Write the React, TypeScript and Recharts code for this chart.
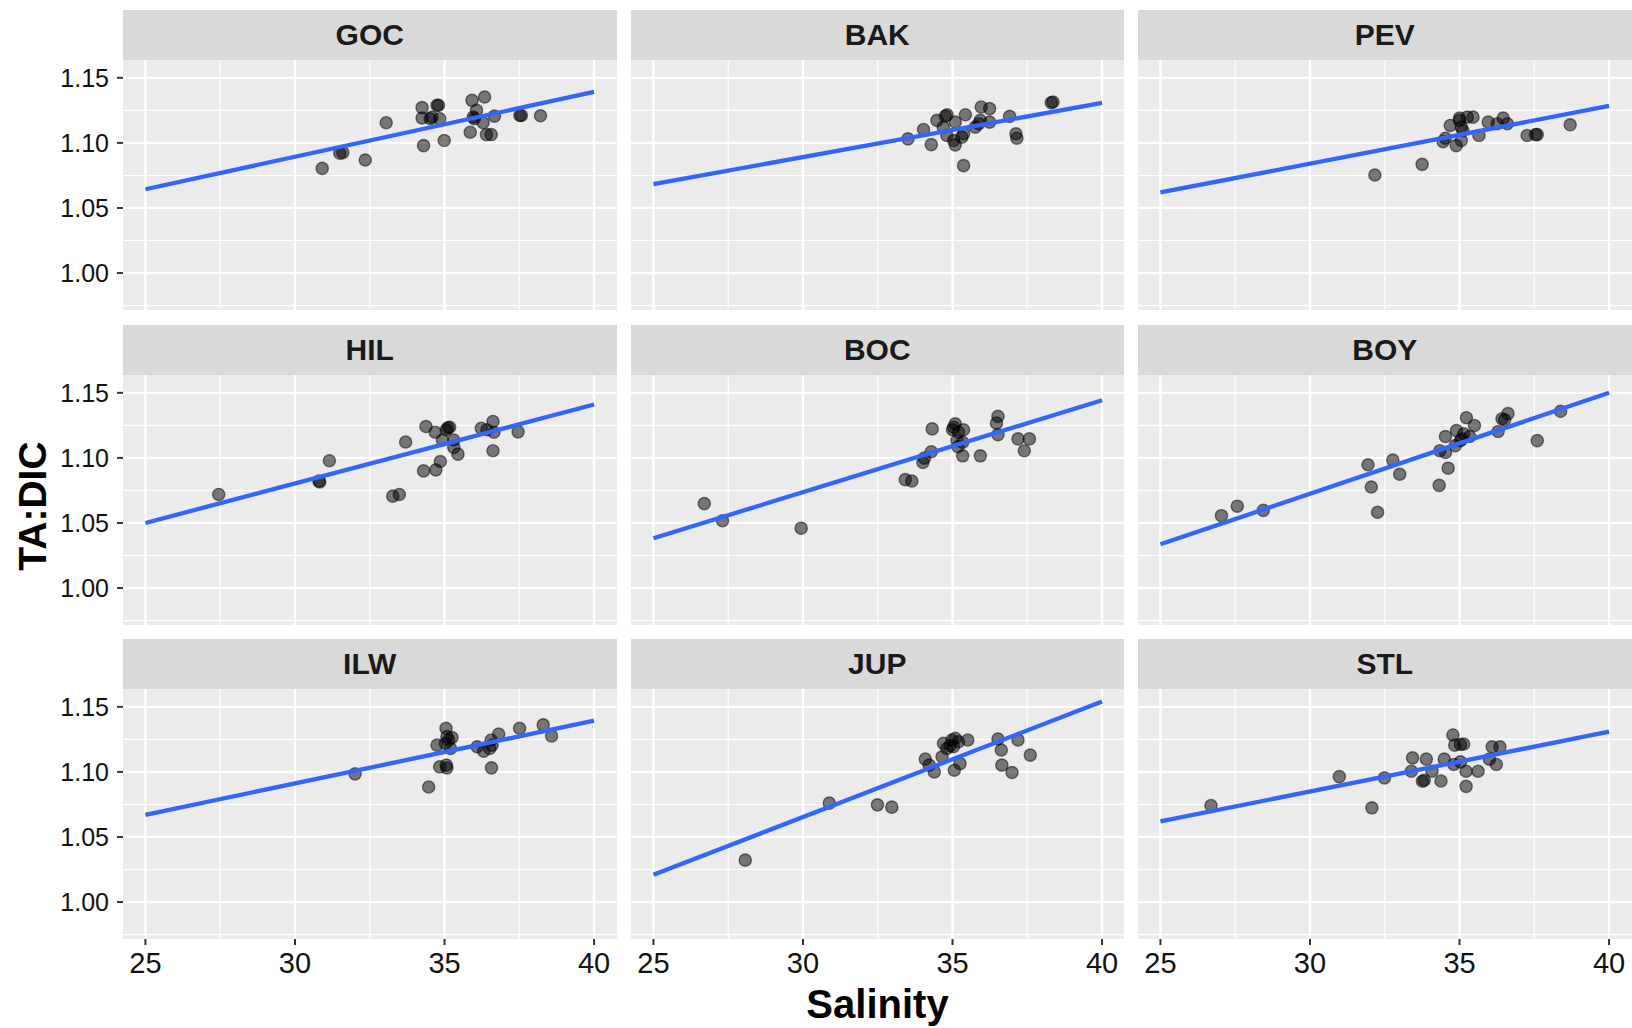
import React from "react";
import { ScatterChart, Scatter, XAxis, YAxis, CartesianGrid } from "recharts";

// Salinity vs TA:DIC observations per station: [salinity, TA:DIC]
const GOC: [number, number][] = [
  [30.91, 1.0804], [31.5, 1.092], [31.6, 1.0925], [32.35, 1.0869], [33.05, 1.1155],
  [34.25, 1.1271], [34.25, 1.1191], [34.3, 1.0979], [34.75, 1.1289], [34.8, 1.1289],
  [34.58, 1.1198], [34.84, 1.1186], [34.52, 1.1186], [34.99, 1.1018], [35.92, 1.1327],
  [36.34, 1.1353], [36.07, 1.125], [35.96, 1.1198], [36.0, 1.1186], [36.29, 1.1155],
  [35.86, 1.1082], [36.4, 1.1064], [36.56, 1.1064], [36.67, 1.1206], [37.52, 1.1211],
  [37.57, 1.1211], [38.21, 1.1209],
];
const BAK: [number, number][] = [
  [33.51, 1.1031], [34.03, 1.1103], [34.29, 1.0987], [34.48, 1.1173], [34.76, 1.1206],
  [34.82, 1.1216], [35.09, 1.116], [34.69, 1.1121], [34.81, 1.1057], [35.04, 1.1018],
  [35.09, 1.0985], [35.37, 1.107], [35.31, 1.1044], [35.43, 1.1216], [35.37, 1.0825],
  [35.76, 1.1121], [35.88, 1.1147], [35.96, 1.1276], [36.24, 1.1263], [35.93, 1.1173],
  [36.24, 1.116], [36.91, 1.1204], [37.12, 1.107], [37.15, 1.1036], [38.3, 1.1309],
  [38.36, 1.1314],
];
const PEV: [number, number][] = [
  [32.17, 1.0753], [33.75, 1.0835], [34.45, 1.101], [34.53, 1.1036], [34.69, 1.1134],
  [34.89, 1.0979], [35.0, 1.1173], [35.06, 1.1121], [35.11, 1.1095], [35.0, 1.119],
  [35.06, 1.1018], [35.26, 1.1198], [35.45, 1.1198], [35.65, 1.1057], [35.96, 1.116],
  [36.26, 1.1147], [36.46, 1.119], [36.6, 1.1147], [37.26, 1.1057], [37.54, 1.1064],
  [37.6, 1.1064], [38.7, 1.1139],
];
const HIL: [number, number][] = [
  [27.45, 1.0719], [30.8, 1.0822], [30.83, 1.0815], [31.15, 1.0978], [33.27, 1.0706],
  [33.49, 1.0719], [33.7, 1.1122], [34.3, 1.09], [34.38, 1.1241], [34.69, 1.1197],
  [34.71, 1.0908], [34.86, 1.0972], [35.11, 1.1231], [35.06, 1.1216], [35.17, 1.1236],
  [34.93, 1.1138], [35.31, 1.1138], [35.31, 1.1081], [35.45, 1.1029], [36.23, 1.1228],
  [36.42, 1.1216], [36.62, 1.128], [36.65, 1.1197], [36.62, 1.1055], [37.46, 1.12],
];
const BOC: [number, number][] = [
  [26.7, 1.0649], [27.31, 1.0517], [29.94, 1.046], [33.42, 1.0833], [33.64, 1.0822],
  [34.01, 1.0965], [34.06, 1.0998], [34.29, 1.1047], [34.32, 1.1223], [35.0, 1.1216],
  [35.09, 1.1262], [35.04, 1.1236], [35.37, 1.1216], [35.2, 1.1197], [35.15, 1.1133],
  [35.18, 1.1086], [35.34, 1.112], [35.34, 1.1016], [35.93, 1.1016], [36.52, 1.1319],
  [36.47, 1.1267], [36.52, 1.1179], [37.19, 1.1146], [37.57, 1.1146], [37.4, 1.1055],
];
const BOY: [number, number][] = [
  [27.04, 1.0556], [27.57, 1.0629], [28.44, 1.0597], [31.94, 1.0947], [32.05, 1.0776],
  [32.26, 1.0582], [32.77, 1.0983], [33.0, 1.0874], [34.32, 1.0789], [34.34, 1.1055],
  [34.53, 1.1042], [34.53, 1.1164], [34.62, 1.0921], [34.86, 1.1094], [34.9, 1.121],
  [35.08, 1.1146], [35.14, 1.1185], [35.03, 1.1133], [35.23, 1.1309], [35.34, 1.1164],
  [35.5, 1.1249], [36.29, 1.1203], [36.42, 1.1301], [36.51, 1.1293], [36.62, 1.134],
  [37.6, 1.1133], [38.38, 1.1358],
];
const ILW: [number, number][] = [
  [32.01, 1.0985], [34.47, 1.0884], [34.75, 1.1206], [34.84, 1.1039], [35.08, 1.1031],
  [35.06, 1.1052], [35.05, 1.1335], [35.08, 1.1271], [35.14, 1.1245], [35.25, 1.1263],
  [35.03, 1.1219], [35.2, 1.118], [36.09, 1.1193], [36.31, 1.116], [36.56, 1.1245],
  [36.59, 1.1206], [36.51, 1.118], [36.81, 1.1291], [36.57, 1.1031], [37.51, 1.1335],
  [38.3, 1.1361], [38.58, 1.1276],
];
const JUP: [number, number][] = [
  [28.07, 1.0322], [30.88, 1.076], [32.49, 1.0747], [32.97, 1.0729], [34.09, 1.1098],
  [34.22, 1.1052], [34.39, 1.1], [34.65, 1.1116], [34.7, 1.1219], [34.81, 1.118],
  [34.98, 1.1245], [35.09, 1.1258], [35.2, 1.1232], [34.92, 1.1201], [35.03, 1.1193],
  [35.51, 1.1245], [35.25, 1.1064], [35.06, 1.1013], [36.52, 1.1253], [36.63, 1.1168],
  [36.65, 1.1052], [36.99, 1.0995], [37.19, 1.1245], [37.6, 1.1129],
];
const STL: [number, number][] = [
  [26.69, 1.0742], [30.98, 1.0964], [32.07, 1.0724], [32.49, 1.0954], [33.39, 1.1005],
  [33.43, 1.1108], [33.76, 1.0928], [33.82, 1.0936], [33.89, 1.1098], [34.08, 1.1005],
  [34.38, 1.093], [34.49, 1.1098], [34.78, 1.1284], [34.84, 1.1206], [35.03, 1.1211],
  [35.14, 1.1214], [34.81, 1.1057], [35.03, 1.1077], [35.22, 1.1005], [35.22, 1.0889],
  [35.62, 1.1005], [36.0, 1.1098], [36.09, 1.1193], [36.35, 1.1193], [36.23, 1.1057],
];

// Station facets, in panel order (row by row)
const STATIONS = ["GOC", "BAK", "PEV", "HIL", "BOC", "BOY", "ILW", "JUP", "STL"];
const STATION_DATA = [GOC, BAK, PEV, HIL, BOC, BOY, ILW, JUP, STL];

// Linear fit per station, evaluated at the ends of the salinity range
const FIT_RANGE = [25, 40];
const FIT_AT_START = [1.0644, 1.0683, 1.0619, 1.050, 1.0383, 1.0336, 1.067, 1.0209, 1.0619];
const FIT_AT_END = [1.1392, 1.1307, 1.1284, 1.141, 1.1443, 1.150, 1.1394, 1.1541, 1.1309];

// Axis ticks and grid positions
const X_TICKS = [25, 30, 35, 40];
const X_MINOR = [27.5, 32.5, 37.5];
const Y_TICKS = [1.0, 1.05, 1.1, 1.15];
const Y_MINOR = [0.975, 1.025, 1.075, 1.125];
const X_DOMAIN: [number, number] = [24.25, 40.75];
const Y_DOMAIN: [number, number] = [0.9716, 1.1637];

// Facet layout
const COL_LEFT = [123, 630.5, 1138];
const ROW_TOP = [10, 324.5, 639];
const PANEL_W = 493.5;
const PANEL_H = 250;
const STRIP_H = 50;
const YAXIS_W = 123;
const XAXIS_H = 56;

const FONT = '"Liberation Sans", Arial, Helvetica, sans-serif';
const PANEL_BG = "#EBEBEB";
const STRIP_BG = "#D9D9D9";
const LINE_BLUE = "#3366FF";

const PointShape = (p: any) => (
  <circle
    cx={p.cx}
    cy={p.cy}
    r={6.1}
    fill="#000"
    fillOpacity={0.5}
    stroke="#000"
    strokeOpacity={0.5}
    strokeWidth={1.4}
  />
);

const NoShape = () => <g />;

function Panel({ idx }: { idx: number }) {
  const row = Math.floor(idx / 3);
  const col = idx % 3;
  const showY = col === 0;
  const showX = row === 2;
  const plotLeft = COL_LEFT[col];
  const plotTop = ROW_TOP[row] + STRIP_H;
  const chartLeft = plotLeft - (showY ? YAXIS_W : 0);
  const width = PANEL_W + (showY ? YAXIS_W : 0);
  const height = PANEL_H + (showX ? XAXIS_H : 0);

  const points = STATION_DATA[idx].map(([s, r]) => ({ s, r }));
  const fit = [
    { s: FIT_RANGE[0], r: FIT_AT_START[idx] },
    { s: FIT_RANGE[1], r: FIT_AT_END[idx] },
  ];

  return (
    <>
      <div
        style={{
          position: "absolute",
          left: plotLeft,
          top: ROW_TOP[row],
          width: PANEL_W,
          height: STRIP_H,
          background: STRIP_BG,
          display: "flex",
          alignItems: "center",
          justifyContent: "center",
          fontFamily: FONT,
          fontWeight: 700,
          fontSize: 30,
          color: "#1A1A1A",
        }}
      >
        {STATIONS[idx]}
      </div>
      <div
        style={{
          position: "absolute",
          left: plotLeft,
          top: plotTop,
          width: PANEL_W,
          height: PANEL_H,
          background: PANEL_BG,
        }}
      />
      <div style={{ position: "absolute", left: chartLeft, top: plotTop }}>
        <ScatterChart
          width={width}
          height={height}
          margin={{ top: 0, right: 0, bottom: 0, left: 0 }}
        >
          <CartesianGrid
            stroke="#FFFFFF"
            strokeWidth={1.1}
            horizontalValues={Y_MINOR}
            verticalValues={X_MINOR}
          />
          <CartesianGrid
            stroke="#FFFFFF"
            strokeWidth={2.3}
            horizontalValues={Y_TICKS}
            verticalValues={X_TICKS}
          />
          <XAxis
            type="number"
            dataKey="s"
            domain={X_DOMAIN}
            ticks={X_TICKS}
            allowDataOverflow
            hide={!showX}
            height={XAXIS_H}
            axisLine={false}
            tickSize={6}
            tickMargin={7}
            tickLine={{ stroke: "#333333", strokeWidth: 2 }}
            tick={{ fontSize: 29, fill: "#111111", fontFamily: FONT }}
            interval={0}
          />
          <YAxis
            type="number"
            dataKey="r"
            domain={Y_DOMAIN}
            ticks={Y_TICKS}
            allowDataOverflow
            hide={!showY}
            width={YAXIS_W}
            axisLine={false}
            tickSize={6}
            tickMargin={8}
            tickLine={{ stroke: "#333333", strokeWidth: 2 }}
            tick={{ fontSize: 25, fill: "#111111", fontFamily: FONT }}
            tickFormatter={(v: number) => v.toFixed(2)}
            interval={0}
          />
          <Scatter
            data={points}
            shape={PointShape}
            isAnimationActive={false}
          />
          <Scatter
            data={fit}
            shape={NoShape}
            fill={LINE_BLUE}
            stroke={LINE_BLUE}
            line={{ stroke: LINE_BLUE, strokeWidth: 4.3 }}
            isAnimationActive={false}
          />
        </ScatterChart>
      </div>
    </>
  );
}

export default function App() {
  return (
    <div
      style={{
        position: "absolute",
        left: 0,
        top: 0,
        width: 1632,
        height: 1028,
        background: "#FFFFFF",
        overflow: "hidden",
        fontFamily: FONT,
      }}
    >
      {STATIONS.map((_, i) => (
        <Panel key={STATIONS[i]} idx={i} />
      ))}
      <div
        style={{
          position: "absolute",
          left: 877.5,
          top: 1004,
          transform: "translate(-50%, -50%)",
          fontWeight: 700,
          fontSize: 40,
          color: "#000",
          whiteSpace: "nowrap",
        }}
      >
        Salinity
      </div>
      <div
        style={{
          position: "absolute",
          left: 33,
          top: 506,
          transform: "translate(-50%, -50%) rotate(-90deg)",
          fontWeight: 700,
          fontSize: 39,
          color: "#000",
          whiteSpace: "nowrap",
        }}
      >
        TA:DIC
      </div>
    </div>
  );
}
